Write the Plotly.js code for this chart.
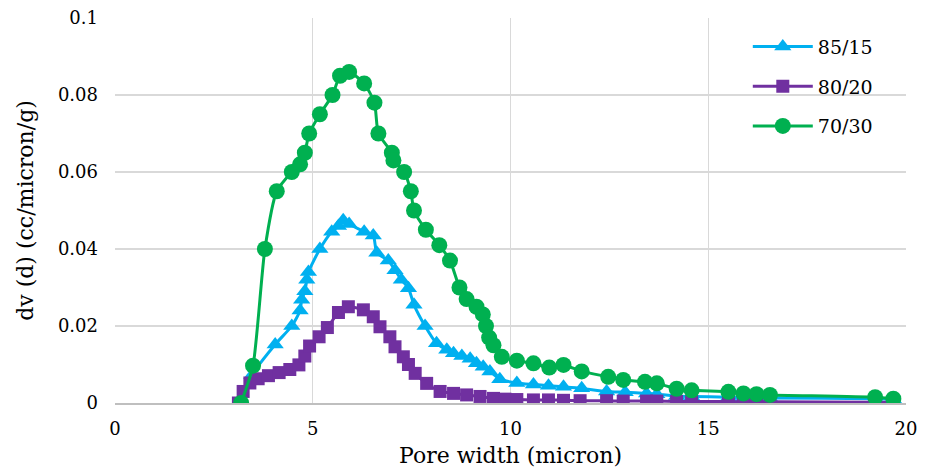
<!DOCTYPE html>
<html>
<head>
<meta charset="utf-8">
<script src="https://cdn.plot.ly/plotly-3.0.1.min.js"></script>
<style>html,body{margin:0;padding:0;background:#fff;}#chart{width:932px;height:469px;}</style>
</head>
<body>
<div id="chart"></div>
<script>
// Series 85/15
const x8515 = [3.19,3.46,4.05,4.47,4.68,4.72,4.80,4.85,4.89,5.18,5.48,5.65,5.77,5.92,6.30,6.53,6.62,6.91,7.08,7.24,7.42,7.56,7.84,8.13,8.39,8.56,8.77,8.98,9.14,9.31,9.48,9.73,10.16,10.58,10.96,11.34,11.80,12.43,12.90,13.44,13.70,14.20,14.58,15.51,15.89,16.22,16.56,19.22,19.68];
const y8515 = [0,0.0072,0.0152,0.020,0.024,0.0268,0.029,0.032,0.034,0.040,0.0445,0.046,0.0475,0.0465,0.0445,0.0435,0.039,0.037,0.0345,0.032,0.0298,0.0255,0.020,0.0155,0.0138,0.0129,0.0122,0.0115,0.0103,0.0094,0.0082,0.0062,0.0052,0.0048,0.0045,0.0042,0.0038,0.0030,0.0028,0.0025,0.0023,0.0018,0.0017,0.0015,0.0014,0.0013,0.0013,0.0011,0.0010];
// Series 80/20
const x8020 = [3.12,3.24,3.41,3.62,3.88,4.15,4.42,4.65,4.80,4.92,5.16,5.37,5.65,5.90,6.28,6.53,6.70,6.95,7.08,7.29,7.42,7.59,7.88,8.22,8.56,8.89,9.23,9.57,9.86,10.16,10.58,10.96,11.34,11.76,12.43,12.85,13.44,13.70,14.20,14.58,15.51,15.89,16.22,16.56,19.22,19.68];
const y8020 = [0,0.003,0.0052,0.0063,0.0071,0.0079,0.0087,0.0099,0.0122,0.0148,0.0172,0.0196,0.0235,0.025,0.0242,0.0224,0.0198,0.0172,0.0146,0.0120,0.0100,0.0077,0.0051,0.0030,0.0025,0.0021,0.0017,0.0012,0.0010,0.0009,0.0008,0.0008,0.0007,0.0006,0.0006,0.0005,0.0005,0.0005,0.0004,0.0004,0.0004,0.0003,0.0003,0.0003,0.0002,0.0002];
// Series 70/30
const x7030 = [3.19,3.49,3.79,4.09,4.47,4.68,4.80,4.91,5.18,5.50,5.69,5.92,6.30,6.56,6.66,7.00,7.04,7.31,7.48,7.56,7.86,8.20,8.47,8.71,8.89,9.14,9.30,9.38,9.46,9.57,9.78,10.16,10.58,10.98,11.34,11.80,12.47,12.85,13.40,13.70,14.20,14.58,15.51,15.89,16.22,16.56,19.22,19.68];
const y7030 = [0,0.0097,0.040,0.055,0.060,0.062,0.065,0.070,0.075,0.080,0.085,0.086,0.083,0.078,0.070,0.065,0.063,0.060,0.055,0.050,0.045,0.041,0.037,0.030,0.027,0.025,0.023,0.020,0.017,0.015,0.012,0.011,0.0103,0.0092,0.0099,0.0082,0.0068,0.0060,0.0055,0.0051,0.0037,0.0033,0.0029,0.0025,0.0023,0.0021,0.0015,0.0011];

const seriesNames = ['85/15','80/20','70/30'];
const xTicks = [0,5,10,15,20];
const yTicks = [0,0.02,0.04,0.06,0.08,0.1];
const yTickText = ['0','0.02','0.04','0.06','0.08','0.1'];

const font = 'DejaVu Serif';
const traces = [
  {x:x8515, y:y8515, name:seriesNames[0], legendgroup:'a', mode:'lines+markers', line:{color:'#00B0F0', width:3, shape:'spline', smoothing:0.6}, marker:{symbol:'triangle-up', size:15, color:'#00B0F0'}},
  {x:x8020, y:y8020, name:seriesNames[1], legendgroup:'b', mode:'lines+markers', line:{color:'#7030A0', width:3, shape:'spline', smoothing:0.6}, marker:{symbol:'square', size:13, color:'#7030A0'}},
  {x:x7030, y:y7030, name:seriesNames[2], legendgroup:'c', mode:'lines+markers', line:{color:'#00B050', width:3, shape:'spline', smoothing:0.6}, marker:{symbol:'circle', size:16, color:'#00B050'}}
];
const layout = {
  width:932, height:469,
  margin:{l:115, r:26, t:18, b:66},
  paper_bgcolor:'#fff', plot_bgcolor:'#fff',
  font:{family:font, color:'#000', size:18},
  showlegend:true,
  legend:{x:0.8, y:0.975, xanchor:'left', yanchor:'top', bgcolor:'rgba(0,0,0,0)', font:{family:font, size:19, color:'#000'}, traceorder:'grouped', tracegroupgap:12, itemwidth:60},
  xaxis:{range:[0,20], tickvals:xTicks, ticktext:xTicks.map(String), showgrid:true, gridcolor:'#d9d9d9', gridwidth:1.3, zeroline:false, showline:true, linecolor:'#bfbfbf', linewidth:1.5, ticks:'', ticklabelstandoff:9, tickfont:{family:font, size:18, color:'#000'},
    title:{text:'Pore width (micron)', font:{family:font, size:22, color:'#000'}, standoff:9}},
  yaxis:{range:[0,0.1], tickvals:yTicks, ticktext:yTickText, showgrid:true, gridcolor:'#d9d9d9', gridwidth:1.3, zeroline:false, showline:false, ticks:'', ticklabelstandoff:16, tickfont:{family:font, size:18, color:'#000'},
    title:{text:'dv (d) (cc/micron/g)', font:{family:font, size:22, color:'#000'}, standoff:18}}
};
Plotly.newPlot('chart', traces, layout, {displayModeBar:false, staticPlot:true});
</script>
</body>
</html>
